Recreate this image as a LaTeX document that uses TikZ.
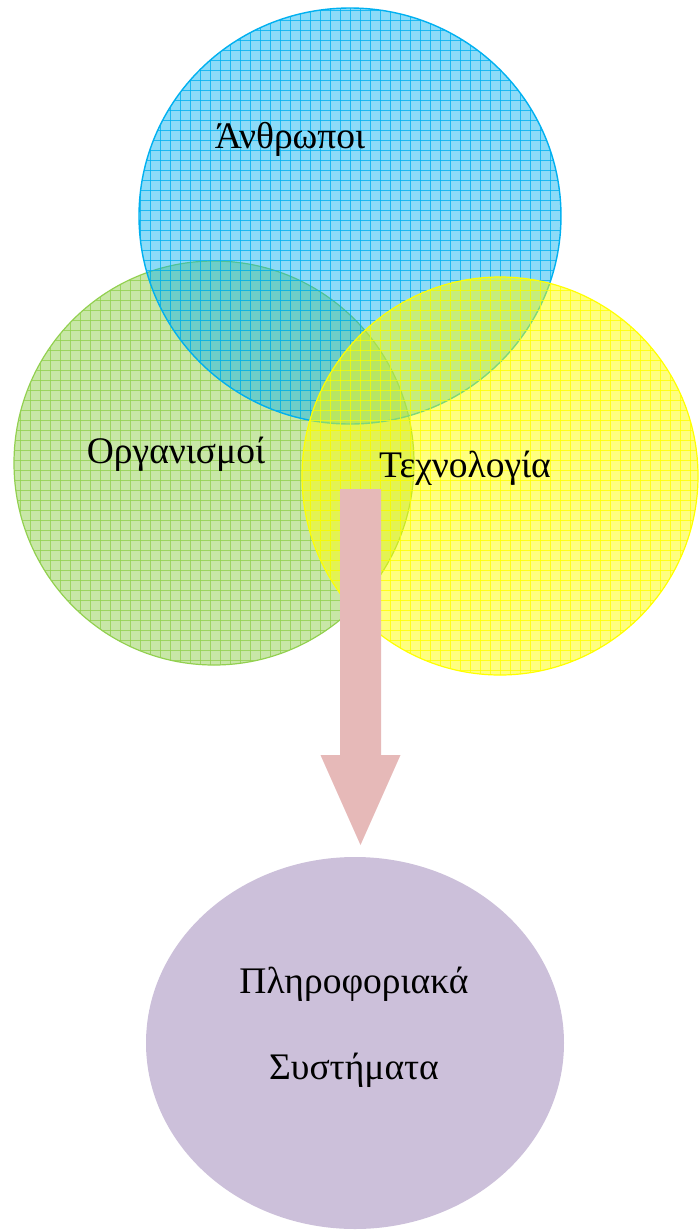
\documentclass[tikz,border=0pt]{standalone}
\usepackage{fontspec}
\setmainfont{Liberation Serif}
\definecolor{peopleblue}{HTML}{00B0F0}
\definecolor{orggreen}{HTML}{92D050}
\definecolor{techyellow}{HTML}{FFFF00}
\definecolor{infopurple}{HTML}{CCC0DA}
\definecolor{arrowpink}{HTML}{E6B9B8}
\tikzset{
  label text/.style={font=\fontsize{37.5}{45}\selectfont, text=black, anchor=base, inner sep=0pt},
  gridded/.style={line width=1pt, draw opacity=0.8},
}
% grid lines covering the upper part of the page, 10 units apart
\newcommand{\pagegrid}{%
  \foreach \gk in {0,...,70} {
    \draw (10*\gk+0.5,0) -- (10*\gk+0.5,700);
    \draw (0,10*\gk+0.5) -- (699,10*\gk+0.5);
  }
}
\begin{document}
\begin{tikzpicture}[x=1pt,y=-1pt]
  \useasboundingbox (0,0) rectangle (699,1232);

  % Organismoi circle (green)
  \begin{scope}
    \fill[orggreen, fill opacity=0.5] (214,463) circle[x radius=200, y radius=202];
    \clip (214,463) circle[x radius=200, y radius=202];
    \begin{scope}[orggreen, gridded]\pagegrid\end{scope}
  \end{scope}
  \draw[orggreen, line width=1.2pt] (214,463) circle[x radius=200, y radius=202];

  % Anthropoi circle (blue)
  \begin{scope}
    \fill[peopleblue, fill opacity=0.45] (350,216) circle[x radius=211, y radius=208];
    \clip (350,216) circle[x radius=211, y radius=208];
    \begin{scope}[peopleblue, gridded]\pagegrid\end{scope}
  \end{scope}
  \draw[peopleblue, line width=1.4pt] (350,216) circle[x radius=211, y radius=208];

  % Technologia circle (yellow)
  \begin{scope}
    \fill[techyellow, fill opacity=0.5] (500,476) circle[x radius=198, y radius=199];
    \clip (500,476) circle[x radius=198, y radius=199];
    \begin{scope}[techyellow, gridded]\pagegrid\end{scope}
  \end{scope}
  \draw[techyellow, line width=1.2pt] (500,476) circle[x radius=198, y radius=199];

  % Information systems ellipse
  \fill[infopurple] (355,1043) circle[x radius=209, y radius=186];

  % Labels
  \node[label text] (anthropoi) at (290,148) {Άνθρωποι};
  \node[label text] (organismoi) at (176,463) {Οργανισμοί};
  \node[label text] (technologia) at (465,477) {Τεχνολογία};
  \node[label text] (pliroforiaka) at (354,993) {Πληροφοριακά};
  \node[label text] (systimata) at (354,1079) {Συστήματα};

  % Block arrow from the overlap down to the ellipse
  \coordinate (arrowtop) at (360.5,489);
  \coordinate (arrowtip) at (360.5,845);
  \fill[arrowpink]
    ([xshift=-20.5pt]arrowtop) -- ([xshift=20.5pt]arrowtop)
    -- ([xshift=20.5pt,yshift=-266pt]arrowtop)
    -- ([xshift=40pt,yshift=-266pt]arrowtop)
    -- (arrowtip)
    -- ([xshift=-40pt,yshift=-266pt]arrowtop)
    -- ([xshift=-20.5pt,yshift=-266pt]arrowtop) -- cycle;
\end{tikzpicture}
\end{document}
